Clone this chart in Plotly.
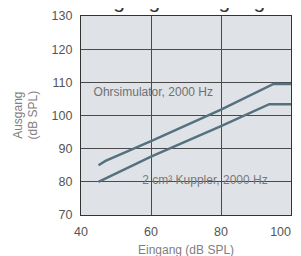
import plotly.graph_objects as go

# Data
ohr_x = [45, 47, 60, 80, 95, 100]
ohr_y = [85, 86.3, 92.3, 101.8, 109.5, 109.5]
kup_x = [45, 60, 80, 93.8, 100]
kup_y = [80, 87.6, 96.8, 103.4, 103.4]

x_ticks = [40, 60, 80, 100]
x_tick_labels = ["40", "60", "80", "100<span style='color:rgba(0,0,0,0)'>000</span>"]
y_ticks = [70, 80, 90, 100, 110, 120, 130]

title_text = "Eingang – Ausgang"
x_title = "Eingang (dB SPL)"
y_title = "Ausgang<br>(dB SPL)"
label_ohr = "Ohrsimulator, 2000 Hz"
label_kup = "2 cm³ Kuppler, 2000 Hz"

FONT = "Liberation Sans"
LINE_C = "#56717e"
GRID_C = "#4a4a4a"

fig = go.Figure()
fig.add_trace(go.Scatter(x=ohr_x, y=ohr_y, mode="lines",
                         line=dict(color=LINE_C, width=2.5), showlegend=False, hoverinfo="skip"))
fig.add_trace(go.Scatter(x=kup_x, y=kup_y, mode="lines",
                         line=dict(color=LINE_C, width=2.5), showlegend=False, hoverinfo="skip"))
fig.add_trace(go.Scatter(x=[43.6], y=[106.7], mode="text", text=[label_ohr],
                         textposition="middle right",
                         textfont=dict(family=FONT, size=12, color="#707070"),
                         showlegend=False, hoverinfo="skip"))
fig.add_trace(go.Scatter(x=[57.5], y=[80.2], mode="text", text=[label_kup],
                         textposition="middle right",
                         textfont=dict(family=FONT, size=12, color="#7a7a7a"),
                         showlegend=False, hoverinfo="skip"))

# partially visible title at the very top
fig.add_annotation(text=title_text, xref="paper", yref="paper", x=0.0, xanchor="left",
                   xshift=0, y=1.0, yanchor="bottom", yshift=2, showarrow=False,
                   font=dict(family=FONT, size=21, color="#333333"))
# axis titles
fig.add_annotation(text=x_title, xref="paper", yref="paper", x=0.5, xanchor="center",
                   y=0, yanchor="middle", yshift=-35, showarrow=False,
                   font=dict(family=FONT, size=12, color="#808080"))
fig.add_annotation(text=y_title, xref="paper", yref="paper", x=0, xanchor="center",
                   xshift=-56, y=0.5, yanchor="middle", textangle=-90, showarrow=False,
                   font=dict(family=FONT, size=12, color="#808080"))

fig.update_layout(
    width=301, height=256,
    margin=dict(l=73, r=18, t=8, b=49, autoexpand=False),
    paper_bgcolor="white",
    plot_bgcolor="#dfe3e7",
    font=dict(family=FONT, size=12, color="#555555"),
    xaxis=dict(range=[40, 100], tickvals=x_ticks, ticktext=x_tick_labels,
               showgrid=True, gridcolor=GRID_C, gridwidth=1,
               showline=True, linecolor="#333333", linewidth=1.2, mirror=True, zeroline=False,
               automargin=False, ticklabelstandoff=5, ticklabeloverflow="allow",
               ticks="", ticklen=0, tickfont=dict(size=12.5, color="#555555")),
    yaxis=dict(range=[70, 130], tickvals=y_ticks, showgrid=True, gridcolor=GRID_C, gridwidth=1,
               showline=True, linecolor="#333333", linewidth=1.2, mirror=True, zeroline=False,
               automargin=False, ticklabelstandoff=5,
               ticks="", ticklen=0, tickfont=dict(size=12.5, color="#555555")),
)

fig.write_html("out.html")
